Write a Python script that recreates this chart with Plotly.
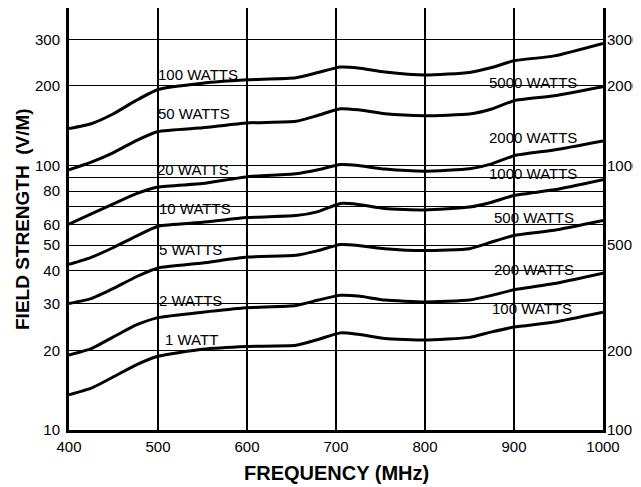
import math
import plotly.graph_objects as go

# Frequency sample points (MHz)
freq = [400, 425, 450, 475, 500, 550, 600, 655, 680, 705, 725, 755, 800, 850, 875, 900, 945, 1000]

# Field strength (V/M) per power level
w1 = [13.6, 14.4, 15.9, 17.6, 19.0, 20.2, 20.7, 20.9, 22.0, 23.3, 23.0, 22.2, 21.9, 22.4, 23.5, 24.5, 25.6, 27.9]
w2 = [19.2, 20.3, 22.5, 24.9, 26.6, 27.9, 29.0, 29.6, 31.0, 32.3, 32.1, 31.0, 30.5, 31.0, 32.3, 33.9, 35.8, 39.2]
w5 = [30.1, 31.4, 34.3, 37.9, 41.0, 42.8, 45.1, 45.8, 47.7, 50.3, 49.9, 48.5, 47.7, 48.5, 51.4, 54.4, 56.9, 62.0]
w10 = [42.3, 45.0, 49.0, 54.0, 59.0, 61.0, 63.6, 64.7, 67.0, 71.9, 71.3, 68.8, 68.0, 69.7, 72.7, 77.1, 81.0, 88.5]
w20 = [60.0, 65.7, 71.7, 78.2, 83.0, 85.5, 90.8, 93.2, 96.5, 100.9, 100.0, 97.0, 95.2, 97.2, 101.5, 109.0, 114.6, 124.0]
w50 = [96.3, 103, 112, 124, 134.5, 139, 145, 147, 155, 164, 162.5, 157, 154.5, 156.7, 163.7, 176, 183.6, 198.7]
w100 = [138, 144, 157, 176, 194, 205, 211, 215, 225, 236, 234, 226, 220, 225, 235, 249, 260, 290]

series = [w100, w50, w20, w10, w5, w2, w1]

left_labels = ["100 WATTS", "50 WATTS", "20 WATTS", "10 WATTS", "5 WATTS", "2 WATTS", "1 WATT"]
left_label_x = [498, 498, 497, 499, 499, 499, 506]
left_label_y = [222, 158, 96.6, 68.9, 48.2, 31.0, 21.9]

right_labels = ["5000 WATTS", "2000 WATTS", "1000 WATTS", "500 WATTS", "200 WATTS", "100 WATTS"]
right_label_x = [870, 870, 870, 875, 875, 873]
right_label_y = [206, 127.6, 93.3, 63.7, 40.5, 28.8]

left_ticks = [10, 20, 30, 40, 50, 60, 70, 80, 90, 100, 200, 300]
left_ticktext = ["10", "20", "30", "40", "50", "60", "", "80", "", "100", "200", "300"]
right_ticks = [100, 200, 500, 1000, 2000, 3000]
right_ticktext = ["100", "200", "500", "1000", "2000", "3000"]
x_ticks = [400, 500, 600, 700, 800, 900, 1000]

FONT = "Liberation Sans, Arial, sans-serif"

fig = go.Figure()
for s in series:
    fig.add_trace(go.Scatter(x=freq, y=s, mode="lines",
                             line=dict(color="black", width=3, shape="spline", smoothing=0.5),
                             showlegend=False, hoverinfo="skip"))

# invisible trace for the right axis
fig.add_trace(go.Scatter(x=[400, 1000], y=[100, 1000], yaxis="y2", mode="lines",
                         line=dict(width=0), opacity=0, showlegend=False, hoverinfo="skip"))

annotations = []
for t, x, y in list(zip(left_labels, left_label_x, left_label_y)) + list(zip(right_labels, right_label_x, right_label_y)):
    annotations.append(dict(x=x, y=math.log10(y), xref="x", yref="y", text=t, showarrow=False,
                            xanchor="left", yanchor="middle",
                            font=dict(family=FONT, size=15, color="black")))

# axis titles
annotations.append(dict(x=0.5, y=-0.102, xref="paper", yref="paper", xanchor="center", yanchor="middle",
                        text="<b>FREQUENCY (MHz)</b>", showarrow=False,
                        font=dict(size=20, family=FONT, color="black")))
annotations.append(dict(x=-0.088, y=0.5, xref="paper", yref="paper", xanchor="center", yanchor="middle",
                        text="<b>FIELD STRENGTH  (V/M)</b>", showarrow=False, textangle=-90,
                        font=dict(size=19, family=FONT, color="black")))

fig.update_layout(
    width=633, height=479,
    margin=dict(l=61, r=38, t=0, b=57),
    paper_bgcolor="white", plot_bgcolor="white",
    font=dict(family=FONT, color="black"),
    annotations=annotations,
    xaxis=dict(
        range=[400, 1000], tickvals=x_ticks, ticks="", ticklabelstandoff=1, automargin=False,
        tickfont=dict(size=15, family=FONT, color="black"),
        showgrid=True, gridcolor="black", gridwidth=1.5,
        showline=True, linecolor="black", linewidth=3, mirror=True, zeroline=False,
    ),
    yaxis=dict(
        type="log", range=[1, 2.596], tickvals=left_ticks, ticktext=left_ticktext,
        ticks="", ticklabelstandoff=3, automargin=False,
        tickfont=dict(size=15, family=FONT, color="black"),
        showgrid=True, gridcolor="black", gridwidth=1.2,
        showline=True, linecolor="black", linewidth=3, mirror=True, zeroline=False,
    ),
    yaxis2=dict(
        type="log", range=[2, 3.596], overlaying="y", side="right", automargin=False,
        tickvals=right_ticks, ticktext=right_ticktext, ticks="", ticklabelstandoff=3,
        tickfont=dict(size=15, family=FONT, color="black"),
        showgrid=False, showline=False, zeroline=False,
    ),
)

fig.write_html("out.html")
